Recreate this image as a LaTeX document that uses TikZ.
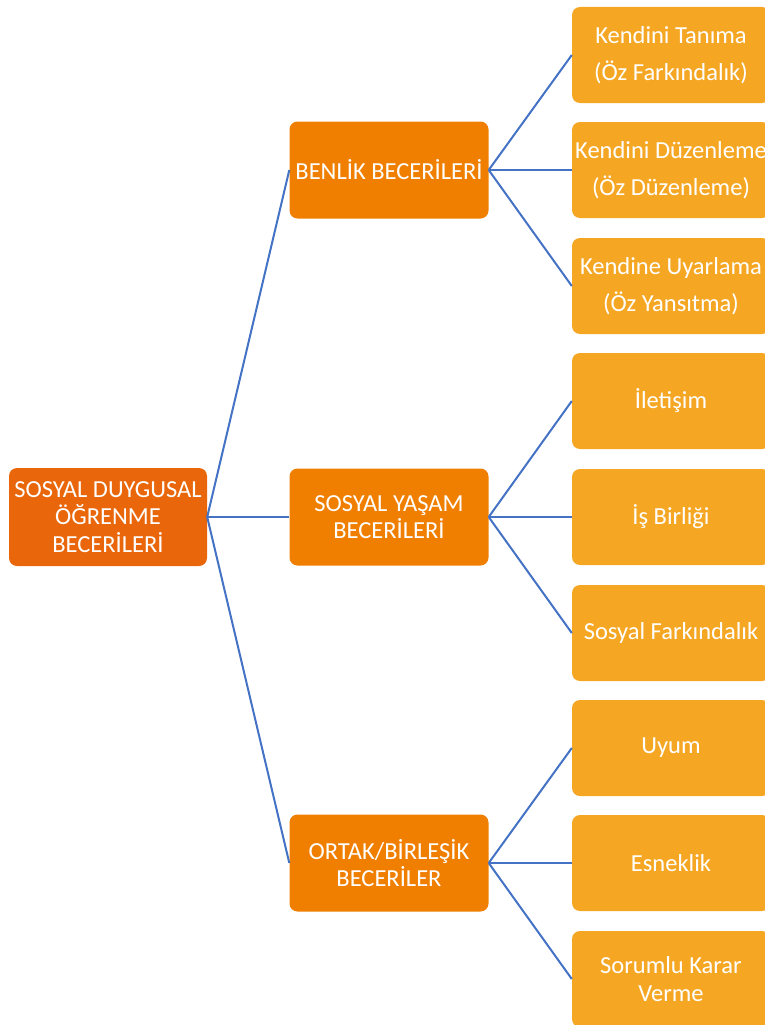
\documentclass[tikz,border=0pt]{standalone}
\usepackage{fontspec}
\setmainfont{Carlito}
\definecolor{rootc}{RGB}{233,102,10}
\definecolor{midc}{RGB}{240,127,0}
\definecolor{leafc}{RGB}{245,167,36}
\definecolor{linec}{RGB}{68,114,196}
\begin{document}
\begin{tikzpicture}[x=1pt,y=-1pt,
  box/.style={rectangle,rounded corners=8pt,text=white,align=center,inner sep=0pt,
    font=\fontsize{24.5}{27.5}\selectfont},
  rootbox/.style={box,fill=rootc,minimum width=198pt,minimum height=98pt},
  midbox/.style={box,fill=midc,minimum width=199pt,minimum height=97pt},
  leafbox/.style={box,fill=leafc,minimum width=198pt,minimum height=96pt},
  tall/.style={font=\fontsize{24.5}{37}\selectfont},
  link/.style={draw=linec,line width=2pt}]
\useasboundingbox (0,0) rectangle (765,1025);
\clip (0,0) rectangle (765,1025);
\node[rootbox] (r) at (108,517) {SOSYAL DUYGUSAL\\ÖĞRENME\\BECERİLERİ};
\node[midbox] (m1) at (389,170) {BENLİK BECERİLERİ};
\node[midbox] (m2) at (389,517) {SOSYAL YAŞAM\\BECERİLERİ};
\node[midbox] (m3) at (389,863) {ORTAK/BİRLEŞİK\\BECERİLER};
\node[leafbox,tall] (l1) at (671,55) {Kendini Tanıma\\(Öz Farkındalık)};
\node[leafbox,tall] (l2) at (671,170) {Kendini Düzenleme\\(Öz Düzenleme)};
\node[leafbox,tall] (l3) at (671,286) {Kendine Uyarlama\\(Öz Yansıtma)};
\node[leafbox] (l4) at (671,401) {İletişim};
\node[leafbox] (l5) at (671,517) {İş Birliği};
\node[leafbox] (l6) at (671,633) {Sosyal Farkındalık};
\node[leafbox] (l7) at (671,748) {Uyum};
\node[leafbox] (l8) at (671,863) {Esneklik};
\node[leafbox] (l9) at (671,979) {Sorumlu Karar\\Verme};
\foreach \m in {m1,m2,m3} \draw[link] (r.east) -- (\m.west);
\foreach \l in {l1,l2,l3} \draw[link] (m1.east) -- (\l.west);
\foreach \l in {l4,l5,l6} \draw[link] (m2.east) -- (\l.west);
\foreach \l in {l7,l8,l9} \draw[link] (m3.east) -- (\l.west);
\end{tikzpicture}
\end{document}
